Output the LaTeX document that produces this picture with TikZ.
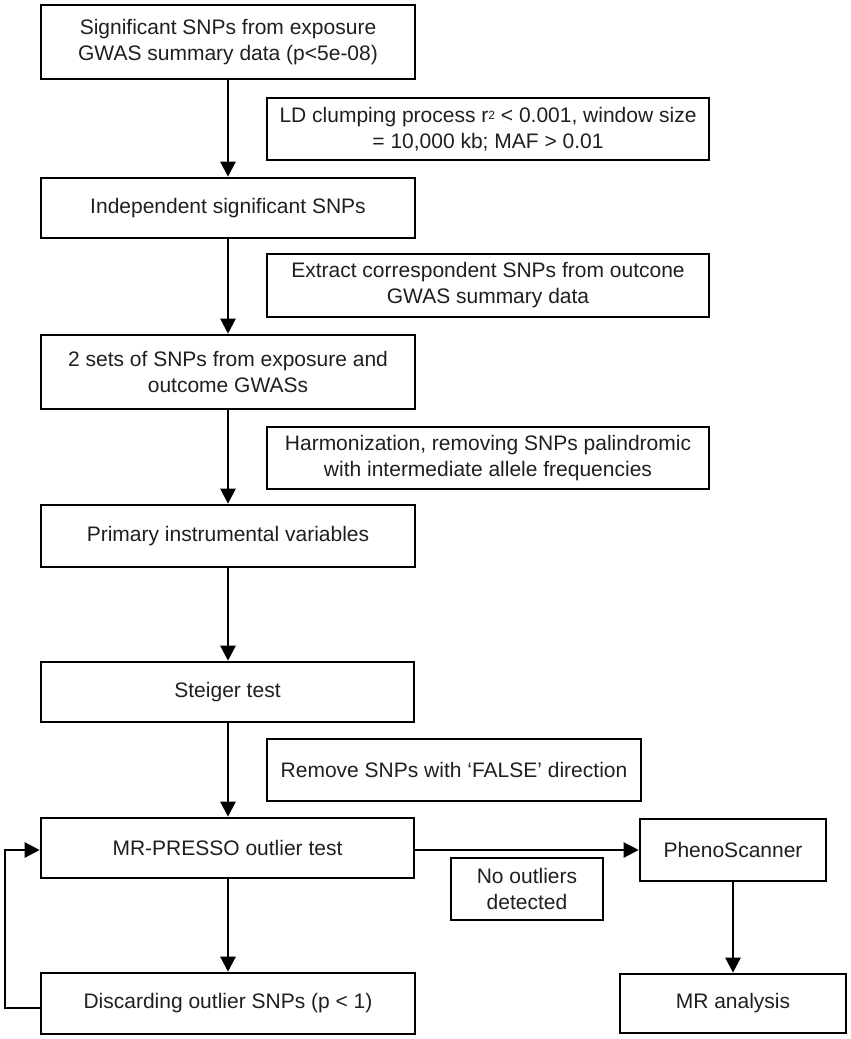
\documentclass[tikz,border=0pt]{standalone}
\usepackage{fontspec}
\setmainfont{Liberation Sans}
\usetikzlibrary{arrows.meta}
\begin{document}
\begin{tikzpicture}[x=1pt,y=-1pt,
  box/.style={draw=black,line width=2.6pt,rectangle,inner sep=0pt,align=center,
    font=\fontsize{21}{26}\selectfont,text=black!88},
  conn/.style={line width=2.4pt,-{Triangle[width=15pt,length=15pt]}}]
\useasboundingbox (0,0) rectangle (851,1039);
\node[box,minimum width=374pt,minimum height=74pt] (b1) at (228,42) {Significant SNPs from exposure\\GWAS summary data (p<5e-08)};
\node[box,minimum width=442pt,minimum height=62pt] (ld) at (488,129) {LD clumping process r{\fontsize{12}{12}\selectfont\raisebox{3pt}{2}} < 0.001, window size\\= 10,000 kb; MAF > 0.01};
\node[box,minimum width=374pt,minimum height=60pt] (b2) at (228,208) {Independent significant SNPs};
\node[box,minimum width=442pt,minimum height=63pt] (ex) at (488,285.5) {Extract correspondent SNPs from outcone\\GWAS summary data};
\node[box,minimum width=374pt,minimum height=74pt] (b3) at (228,372) {2 sets of SNPs from exposure and\\outcome GWASs};
\node[box,minimum width=442pt,minimum height=62pt] (hm) at (488,458) {Harmonization, removing SNPs palindromic\\with intermediate allele frequencies};
\node[box,minimum width=374pt,minimum height=62pt] (b4) at (228,536) {Primary instrumental variables};
\node[box,minimum width=373pt,minimum height=60pt] (st) at (227.5,692) {Steiger test};
\node[box,minimum width=374pt,minimum height=62pt] (rm) at (454,770) {Remove SNPs with ‘FALSE’ direction};
\node[box,minimum width=373pt,minimum height=60pt] (mp) at (227.5,848) {MR-PRESSO outlier test};
\node[box,minimum width=374pt,minimum height=61pt] (ds) at (228,1003.5) {Discarding outlier SNPs (p < 1)};
\node[box,minimum width=186pt,minimum height=62pt] (ph) at (733,850) {PhenoScanner};
\node[box,minimum width=152pt,minimum height=62pt] (no) at (527,889) {No outliers\\detected};
\node[box,minimum width=226pt,minimum height=59pt] (mr) at (733,1003.5) {MR analysis};
\draw[conn] (b1.south -| 228,0) -- (b2.north -| 228,0);
\draw[conn] (b2.south -| 228,0) -- (b3.north -| 228,0);
\draw[conn] (b3.south -| 228,0) -- (b4.north -| 228,0);
\draw[conn] (b4.south -| 228,0) -- (st.north -| 228,0);
\draw[conn] (st.south -| 228,0) -- (mp.north -| 228,0);
\draw[conn] (mp.south -| 228,0) -- (ds.north -| 228,0);
\draw[conn] (mp.east |- 0,850) -- (ph.west |- 0,850);
\draw[conn] (ph.south) -- (mr.north);
\coordinate (lb) at (5,1008);
\coordinate (lt) at (5,850);
\draw[conn] (ds.west |- lb) -- (lb) -- (lt) -- (mp.west |- lt);
\end{tikzpicture}
\end{document}
